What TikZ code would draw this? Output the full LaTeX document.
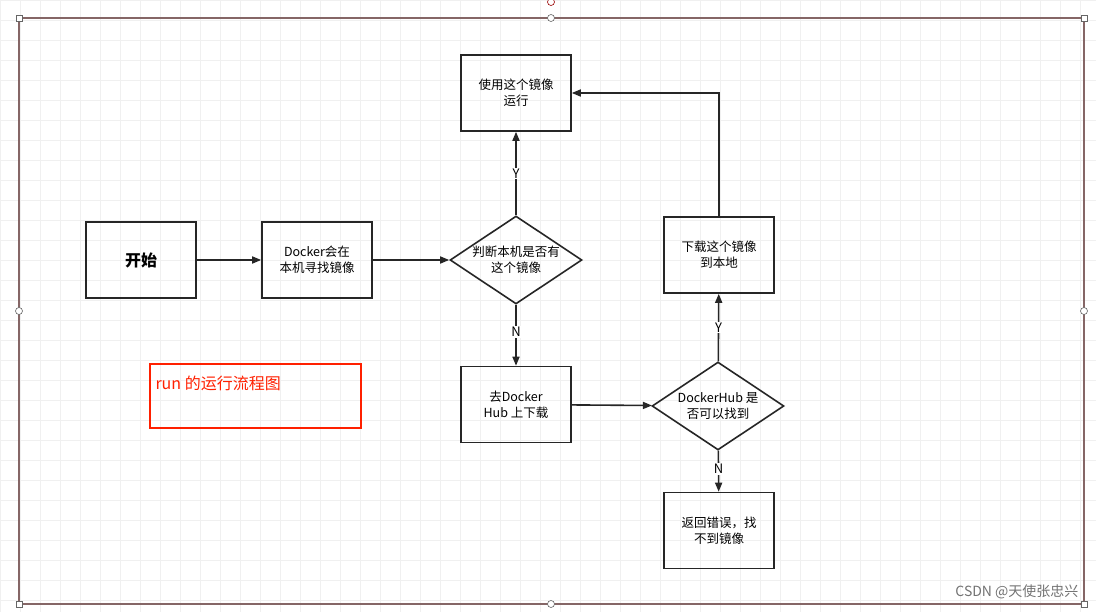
\documentclass[tikz,border=0pt]{standalone}
\usepackage{fontspec}
\setmainfont{Noto Sans CJK SC}
\usetikzlibrary{arrows.meta,shapes.geometric}
\begin{document}
\begin{tikzpicture}[x=1pt,y=-1pt,
  box/.style={draw=black!85,line width=1.6pt,minimum width=110pt,minimum height=76pt,align=center,font=\fontsize{12.5}{16}\selectfont,inner sep=2pt},
  dia/.style={draw=black!85,line width=1.6pt,diamond,minimum width=132pt,minimum height=88pt,align=center,font=\fontsize{12.5}{16}\selectfont,inner sep=0pt,aspect=1.5},
  arr/.style={draw=black!85,line width=1.6pt,-{Triangle[length=9pt,width=7pt]}},
  lbl/.style={fill=white,font=\fontsize{13}{14}\selectfont,inner sep=1pt},
  hd/.style={draw=black!60,fill=white,line width=0.6pt}]
\useasboundingbox (0,0) rectangle (1096,612);
\fill[white] (0,0) rectangle (1096,612);
\foreach \i in {0,20,...,1100} \draw[black!6,line width=0.5pt] (\i,0) -- (\i,612);
\foreach \j in {0,20,...,600} \draw[black!6,line width=0.5pt] (0,\j) -- (1096,\j);
\draw[black!80!red!60,line width=1.2pt] (19,18) rectangle (1084,604);
\foreach \p in {(19,18),(1084,18),(19,604),(1084,604)} \draw[hd] \p ++(-3,-3) rectangle ++(6,6);
\foreach \p in {(551,18),(19,311),(1084,311),(551,604)} \draw[hd] \p circle (3.5);
\draw[hd,draw=red!60!black] (551,2) circle (3.5);
\node[box,font=\fontsize{16}{18}\selectfont\bfseries] (start) at (141,260) {开始};
\node[box] (find) at (317,260) {Docker会在\\本机寻找镜像};
\node[dia] (d1) at (516,260) {判断本机是否有\\这个镜像};
\node[box] (use) at (516,93) {使用这个镜像\\运行};
\node[box] (hub) at (516,404.5) {去Docker\\Hub 上下载};
\node[dia] (d2) at (718,406) {DockerHub 是\\否可以找到};
\node[box] (dl) at (719,255) {下载这个镜像\\到本地};
\node[box] (err) at (719,530.5) {返回错误，找\\不到镜像};
\node[draw=red!75!orange,line width=1.2pt,minimum width=211pt,minimum height=64pt] (title) at (255.5,396) {};
\node[anchor=west,text=red!75!orange,font=\fontsize{16}{18}\selectfont] (tt) at (152,383) {run 的运行流程图};
\draw[arr] (start) -- (find);
\draw[arr] (find) -- (d1);
\draw[arr] (d1) -- node[lbl,pos=0.5]{Y} (use);
\draw[arr] (d1) -- node[lbl,pos=0.45]{N} (hub);
\draw[arr] (hub) -- (d2);
\draw[arr] (d2) -- node[lbl,pos=0.5]{Y} (dl);
\draw[arr] (d2) -- node[lbl,pos=0.45]{N} (err);
\draw[arr] (dl.north) |- (use.east);
\node[anchor=east,text=black!55,font=\fontsize{14}{15}\selectfont] (wm) at (1082,592) {CSDN @天使张忠兴};
\end{tikzpicture}
\end{document}
